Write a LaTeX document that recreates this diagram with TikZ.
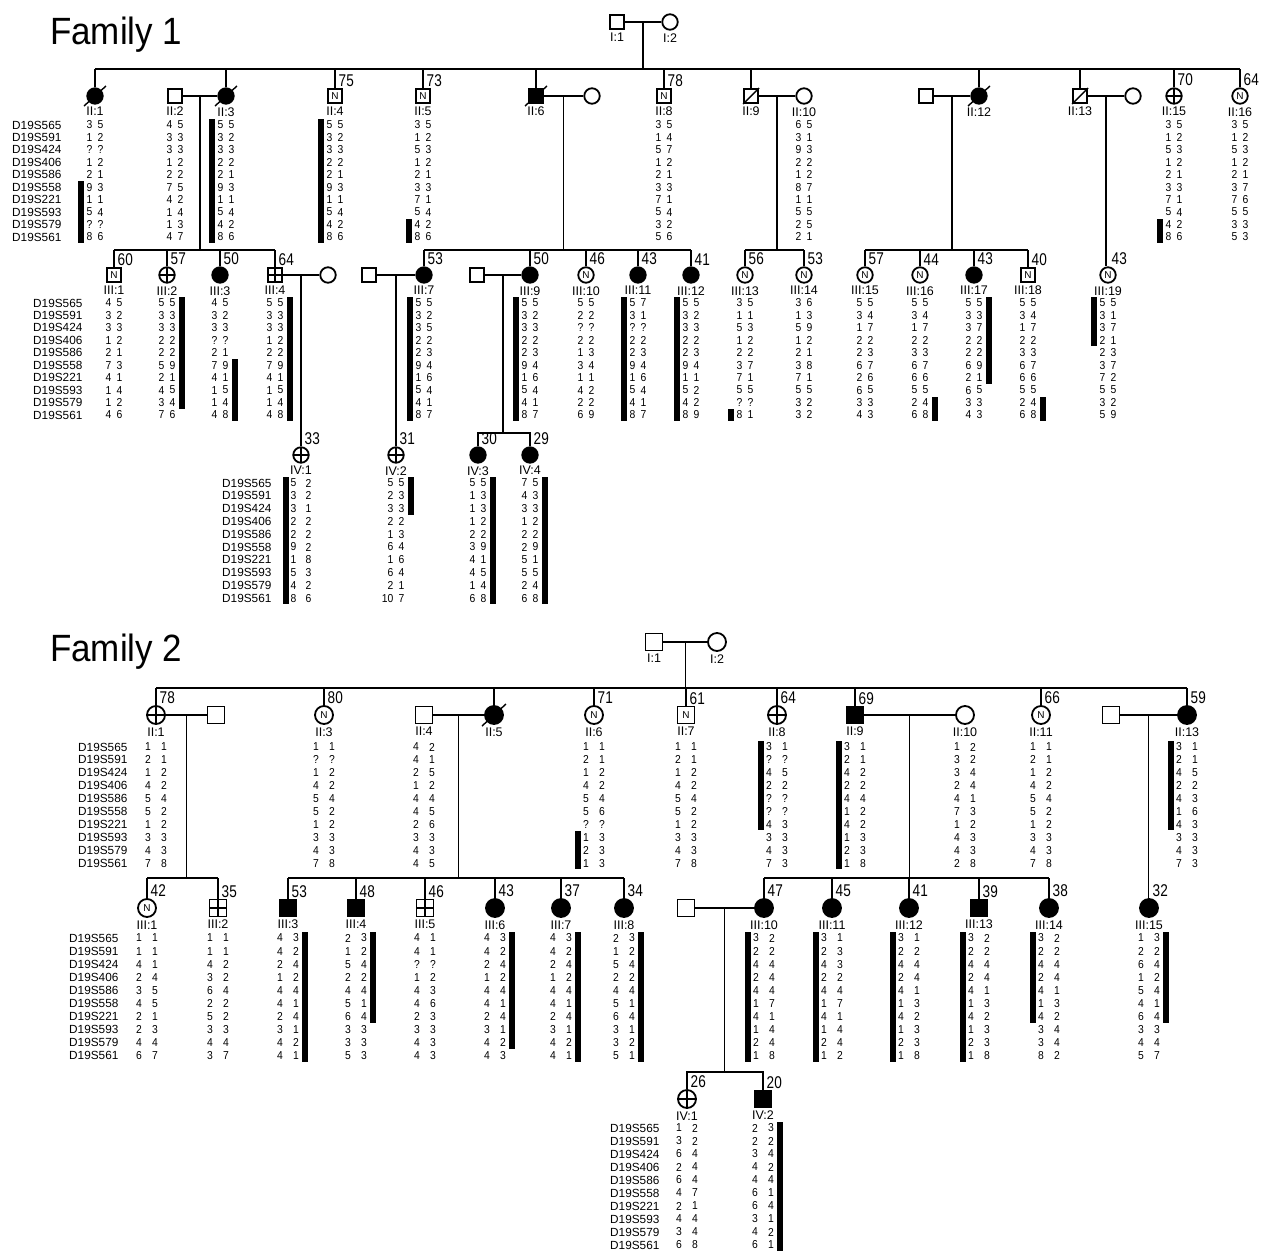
\documentclass[tikz,border=0pt]{standalone}
\usepackage{fontspec}
\setmainfont{Liberation Sans}
\newfontfamily\agefont[FakeStretch=0.8]{Liberation Sans}
\newfontfamily\hapfont[FakeStretch=0.9]{Liberation Sans}
\newfontfamily\ttlfont[FakeStretch=0.92]{Liberation Sans}
\usetikzlibrary{calc}
\tikzset{
  ped/.style={line width=1.3pt},
  symb/.style={draw, line width=1.8pt, inner sep=0pt, font=\fontsize{10}{10}\selectfont},
  sqr/.style={symb, rectangle, minimum size=14pt},
  cir/.style={symb, circle, minimum size=15.5pt},
  aff/.style={fill=black},
  plus/.style={path picture={\draw[line width=1.6pt] (path picture bounding box.north) -- (path picture bounding box.south) (path picture bounding box.west) -- (path picture bounding box.east);}},
  idt/.style={font=\fontsize{12.5}{12.5}\selectfont, inner sep=0pt},
  agel/.style={font=\agefont\fontsize{17}{17}\selectfont, inner sep=0pt, anchor=south west},
  hapt/.style={font=\hapfont\fontsize{11.5}{11.5}\selectfont, inner sep=0pt},
  mkt/.style={font=\fontsize{11.8}{11.8}\selectfont, inner sep=0pt, anchor=west},
  dec/.style={line width=1.4pt},
  ttl/.style={font=\ttlfont\fontsize{38}{38}\selectfont, inner sep=0pt, anchor=base west},
}
% haplotype: prefix, x, y first row, dy, half gap, list
\newcommand{\hap}[6]{\foreach \a/\b [count=\i from 0] in {#6}{%
  \node[hapt,anchor=east] (#1a\i) at ({#2-#5},{#3+#4*\i}) {\a};
  \node[hapt,anchor=west] (#1b\i) at ({#2+#5},{#3+#4*\i}) {\b};}}
% bar: x left, y first row, dy, from row, to row
\newcommand{\hapbar}[5]{\fill ({#1},{#2+#3*(#4-1)-6}) rectangle ({#1+6},{#2+#3*(#5-1)+6});}
% marker labels: prefix, x, y, dy
\newcommand{\mks}[4]{\foreach \m [count=\i from 0] in {D19S565,D19S591,D19S424,D19S406,D19S586,D19S558,D19S221,D19S593,D19S579,D19S561}{%
  \node[mkt] (#1\i) at ({#2},{#3+#4*\i}) {\m};}}
\newcommand{\idl}[2]{\node[idt,anchor=north] (#1id) at ([yshift=-2.5pt]#1.south) {#2};}
\newcommand{\agelab}[2]{\node[agel] (#1age) at ([xshift=3.5pt,yshift=1pt]#1.north) {#2};}
\begin{document}
\begin{tikzpicture}[x=1pt,y=-1pt]
\useasboundingbox (0,0) rectangle (1264,1251);
\fill[white] (0,0) rectangle (1264,1251);

%================ FAMILY 1 ================
\node[ttl] (t1) at (50,44) {Family 1};
% generation I
\node[sqr] (aI1) at (617,22) {};
\node[cir] (aI2) at (670,22) {};
\idl{aI1}{I:1} \idl{aI2}{I:2}
\coordinate (aS2) at (0,69);
\coordinate (aS3) at (0,250);
\coordinate (aS4) at (0,433);
\draw[ped] (aI1) -- (aI2);
\coordinate (aM0) at ($(aI1.east)!.5!(aI2.west)$);
\draw[ped] (aM0) -- (aM0 |- aS2);
% generation II
\node[cir,aff] (aII1) at (95,96) {};
\node[sqr] (aII2) at (175,96) {};
\node[cir,aff] (aII3) at (226,96) {};
\node[sqr] (aII4) at (335,96) {N};
\node[sqr] (aII5) at (423,96) {N};
\node[sqr,aff] (aII6) at (536,96) {};
\node[cir] (aII6w) at (592,96) {};
\node[sqr] (aII8) at (664,96) {N};
\node[sqr] (aII9) at (751,96) {};
\node[cir] (aII10) at (804,96) {};
\node[sqr] (aII12h) at (926,96) {};
\node[cir,aff] (aII12) at (979,96) {};
\node[sqr] (aII13) at (1080,96) {};
\node[cir] (aII13w) at (1133,96) {};
\node[cir,plus] (aII15) at (1174,96) {};
\node[cir] (aII16) at (1240,96) {N};
\foreach \n in {aII1,aII3,aII6,aII12}
  \draw[dec] ([shift={(-11,10)}]\n.center) -- ([shift={(11,-10)}]\n.center);
\foreach \n in {aII9,aII13}
  \draw[dec] ([shift={(-8,8)}]\n.center) -- ([shift={(8,-8)}]\n.center);
\foreach \n in {aII1,aII3,aII4,aII5,aII6,aII8,aII9,aII12,aII13,aII15,aII16}
  \draw[ped] (\n.north) -- (\n.north |- aS2);
\draw[ped] (aII1.north |- aS2) -- (aII16.north |- aS2);
\idl{aII1}{II:1} \idl{aII2}{II:2} \idl{aII3}{II:3} \idl{aII4}{II:4} \idl{aII5}{II:5}
\idl{aII6}{II:6} \idl{aII8}{II:8} \idl{aII9}{II:9} \idl{aII10}{II:10} \idl{aII12}{II:12}
\idl{aII13}{II:13} \idl{aII15}{II:15} \idl{aII16}{II:16}
\agelab{aII4}{75} \agelab{aII5}{73} \agelab{aII8}{78} \agelab{aII15}{70} \agelab{aII16}{64}
\draw[ped] (aII2) -- (aII3);
\draw[ped] (aII6) -- (aII6w);
\draw[ped] (aII9) -- (aII10);
\draw[ped] (aII12h) -- (aII12);
\draw[ped] (aII13) -- (aII13w);
\coordinate (aD1) at ($(aII2.east)!.5!(aII3.west)$);
\coordinate (aD2) at ($(aII6.east)!.5!(aII6w.west)$);
\coordinate (aD3) at ($(aII9.east)!.5!(aII10.west)$);
\coordinate (aD4) at ($(aII12h.east)!.5!(aII12.west)$);
\coordinate (aD5) at ($(aII13.east)!.5!(aII13w.west)$);
\foreach \n in {aD1,aD2,aD3,aD4} \draw[ped] (\n) -- (\n |- aS3);
% haplotypes gen II
\mks{amII}{12}{125}{12.44}
\hap{aII1}{95}{125}{12.44}{2.5}{3/5,1/2,?/?,1/2,2/1,9/3,1/1,5/4,?/?,8/6}
\hapbar{78}{125}{12.44}{6}{10}
\hap{aII2}{175}{125}{12.44}{2.5}{4/5,3/3,3/3,1/2,2/2,7/5,4/2,1/4,1/3,4/7}
\hap{aII3}{226}{125}{12.44}{2.5}{5/5,3/2,3/3,2/2,2/1,9/3,1/1,5/4,4/2,8/6}
\hapbar{209}{125}{12.44}{1}{10}
\hap{aII4}{335}{125}{12.44}{2.5}{5/5,3/2,3/3,2/2,2/1,9/3,1/1,5/4,4/2,8/6}
\hapbar{318}{125}{12.44}{1}{10}
\hap{aII5}{423}{125}{12.44}{2.5}{3/5,1/2,5/3,1/2,2/1,3/3,7/1,5/4,4/2,8/6}
\hapbar{406}{125}{12.44}{9}{10}
\hap{aII8}{664}{125}{12.44}{2.5}{3/5,1/4,5/7,1/2,2/1,3/3,7/1,5/4,3/2,5/6}
\hap{aII10}{804}{125}{12.44}{2.5}{6/5,3/1,9/3,2/2,1/2,8/7,1/1,5/5,2/5,2/1}
\hap{aII15}{1174}{125}{12.44}{2.5}{3/5,1/2,5/3,1/2,2/1,3/3,7/1,5/4,4/2,8/6}
\hapbar{1157}{125}{12.44}{9}{10}
\hap{aII16}{1240}{125}{12.44}{2.5}{3/5,1/2,5/3,1/2,2/1,3/7,7/6,5/5,3/3,5/3}
% generation III
\node[sqr] (aIII1) at (114,275) {N};
\node[cir,plus] (aIII2) at (167,275) {};
\node[cir,aff] (aIII3) at (220,275) {};
\node[sqr,plus] (aIII4) at (275,275) {};
\node[cir] (aIII4w) at (328,275) {};
\node[sqr] (aIII7h) at (369,275) {};
\node[cir,aff] (aIII7) at (424,275) {};
\node[sqr] (aIII9h) at (477,275) {};
\node[cir,aff] (aIII9) at (530,275) {};
\node[cir] (aIII10) at (586,275) {N};
\node[cir,aff] (aIII11) at (638,275) {};
\node[cir,aff] (aIII12) at (691,275) {};
\node[cir] (aIII13) at (745,275) {N};
\node[cir] (aIII14) at (804,275) {N};
\node[cir] (aIII15) at (865,275) {N};
\node[cir] (aIII16) at (920,275) {N};
\node[cir,aff] (aIII17) at (974,275) {};
\node[sqr] (aIII18) at (1028,275) {N};
\node[cir] (aIII19) at (1108,275) {N};
\foreach \n in {aIII1,aIII2,aIII3,aIII4,aIII7,aIII9,aIII10,aIII11,aIII12,aIII13,aIII14,aIII15,aIII16,aIII17,aIII18}
  \draw[ped] (\n.north) -- (\n.north |- aS3);
\draw[ped] (aIII1.north |- aS3) -- (aIII4.north |- aS3);
\draw[ped] (aIII7.north |- aS3) -- (aIII12.north |- aS3);
\draw[ped] (aIII13.north |- aS3) -- (aIII14.north |- aS3);
\draw[ped] (aIII15.north |- aS3) -- (aIII18.north |- aS3);
\draw[ped] (aD5) -- (aD5 |- aIII19.north);
\idl{aIII1}{III:1} \idl{aIII2}{III:2} \idl{aIII3}{III:3} \idl{aIII4}{III:4}
\idl{aIII7}{III:7} \idl{aIII9}{III:9} \idl{aIII10}{III:10} \idl{aIII11}{III:11}
\idl{aIII12}{III:12} \idl{aIII13}{III:13} \idl{aIII14}{III:14} \idl{aIII15}{III:15}
\idl{aIII16}{III:16} \idl{aIII17}{III:17} \idl{aIII18}{III:18} \idl{aIII19}{III:19}
\agelab{aIII1}{60} \agelab{aIII2}{57} \agelab{aIII3}{50} \agelab{aIII4}{64}
\agelab{aIII7}{53} \agelab{aIII9}{50} \agelab{aIII10}{46} \agelab{aIII11}{43}
\agelab{aIII12}{41} \agelab{aIII13}{56} \agelab{aIII14}{53} \agelab{aIII15}{57}
\agelab{aIII16}{44} \agelab{aIII17}{43} \agelab{aIII18}{40} \agelab{aIII19}{43}
\draw[ped] (aIII4) -- (aIII4w);
\draw[ped] (aIII7h) -- (aIII7);
\draw[ped] (aIII9h) -- (aIII9);
\coordinate (aE1) at ($(aIII4.east)!.5!(aIII4w.west)$);
\coordinate (aE2) at ($(aIII7h.east)!.5!(aIII7.west)$);
\coordinate (aE3) at ($(aIII9h.east)!.5!(aIII9.west)$);
% haplotypes gen III
\mks{amIII}{33}{303}{12.44}
\hap{aIII1}{114}{303}{12.44}{2.5}{4/5,3/2,3/3,1/2,2/1,7/3,4/1,1/4,1/2,4/6}
\hap{aIII2}{167}{303}{12.44}{2.5}{5/5,3/3,3/3,2/2,2/2,5/9,2/1,4/5,3/4,7/6}
\hapbar{179}{303}{12.44}{1}{9}
\hap{aIII3}{220}{303}{12.44}{2.5}{4/5,3/2,3/3,?/?,2/1,7/9,4/1,1/5,1/4,4/8}
\hapbar{232}{303}{12.44}{6}{10}
\hap{aIII4}{275}{303}{12.44}{2.5}{5/5,3/3,3/3,1/2,2/2,7/9,4/1,1/5,1/4,4/8}
\hapbar{287}{303}{12.44}{1}{10}
\hap{aIII7}{424}{303}{12.44}{2.5}{5/5,3/2,3/5,2/2,2/3,9/4,1/6,5/4,4/1,8/7}
\hapbar{407}{303}{12.44}{1}{10}
\hap{aIII9}{530}{303}{12.44}{2.5}{5/5,3/2,3/3,2/2,2/3,9/4,1/6,5/4,4/1,8/7}
\hapbar{513}{303}{12.44}{1}{10}
\hap{aIII10}{586}{303}{12.44}{2.5}{5/5,2/2,?/?,2/2,1/3,3/4,1/1,4/2,2/2,6/9}
\hap{aIII11}{638}{303}{12.44}{2.5}{5/7,3/1,?/?,2/2,2/3,9/4,1/6,5/4,4/1,8/7}
\hapbar{621}{303}{12.44}{1}{10}
\hap{aIII12}{691}{303}{12.44}{2.5}{5/5,3/2,3/3,2/2,2/3,9/4,1/1,5/2,4/2,8/9}
\hapbar{674}{303}{12.44}{1}{10}
\hap{aIII13}{745}{303}{12.44}{2.5}{3/5,1/1,5/3,1/2,2/2,3/7,7/1,5/5,?/?,8/1}
\hapbar{728}{303}{12.44}{10}{10}
\hap{aIII14}{804}{303}{12.44}{2.5}{3/6,1/3,5/9,1/2,2/1,3/8,7/1,5/5,3/2,3/2}
\hap{aIII15}{865}{303}{12.44}{2.5}{5/5,3/4,1/7,2/2,2/3,6/7,2/6,6/5,3/3,4/3}
\hap{aIII16}{920}{303}{12.44}{2.5}{5/5,3/4,1/7,2/2,3/3,6/7,6/6,5/5,2/4,6/8}
\hapbar{932}{303}{12.44}{9}{10}
\hap{aIII17}{974}{303}{12.44}{2.5}{5/5,3/3,3/7,2/2,2/2,6/9,2/1,6/5,3/3,4/3}
\hapbar{986}{303}{12.44}{1}{7}
\hap{aIII18}{1028}{303}{12.44}{2.5}{5/5,3/4,1/7,2/2,3/3,6/7,6/6,5/5,2/4,6/8}
\hapbar{1040}{303}{12.44}{9}{10}
\hap{aIII19}{1108}{303}{12.44}{2.5}{5/5,3/1,3/7,2/1,2/3,3/7,7/2,5/5,3/2,5/9}
\hapbar{1091}{303}{12.44}{1}{4}
% generation IV
\node[cir,plus] (aIV1) at (301,455) {};
\node[cir,plus] (aIV2) at (396,455) {};
\node[cir,aff] (aIV3) at (478,455) {};
\node[cir,aff] (aIV4) at (530,455) {};
\draw[ped] (aE1) -- (aE1 |- aIV1.north);
\draw[ped] (aE2) -- (aE2 |- aIV2.north);
\draw[ped] (aE3) -- (aE3 |- aS4);
\draw[ped] (aIV3.north) -- (aIV3.north |- aS4) -- (aIV4.north |- aS4) -- (aIV4.north);
\idl{aIV1}{IV:1} \idl{aIV2}{IV:2} \idl{aIV3}{IV:3} \idl{aIV4}{IV:4}
\agelab{aIV1}{33} \agelab{aIV2}{31} \agelab{aIV3}{30} \agelab{aIV4}{29}
\mks{amIV}{222}{483}{12.8}
\hap{aIV1}{301}{483}{12.8}{4.5}{5/2,3/2,3/1,2/2,2/2,9/2,1/8,5/3,4/2,8/6}
\hapbar{283}{483}{12.8}{1}{10}
\hap{aIV2}{396}{483}{12.8}{2.5}{5/5,2/3,3/3,2/2,1/3,6/4,1/6,6/4,2/1,10/7}
\hapbar{408}{483}{12.8}{1}{3}
\hap{aIV3}{478}{483}{12.8}{2.5}{5/5,1/3,1/3,1/2,2/2,3/9,4/1,4/5,1/4,6/8}
\hapbar{490}{483}{12.8}{1}{10}
\hap{aIV4}{530}{483}{12.8}{2.5}{7/5,4/3,3/3,1/2,2/2,2/9,5/1,5/5,2/4,6/8}
\hapbar{542}{483}{12.8}{1}{10}

%================ FAMILY 2 ================
\begin{scope}[sqr/.append style={minimum size=17pt}, cir/.append style={minimum size=18pt}]
\node[ttl] (t2) at (50,661) {Family 2};
\node[sqr] (bI1) at (654,642) {};
\node[cir] (bI2) at (717,642) {};
\idl{bI1}{I:1} \idl{bI2}{I:2}
\coordinate (bS2) at (0,688);
\coordinate (bS3) at (0,878);
\coordinate (bS4) at (0,1072);
\draw[ped] (bI1) -- (bI2);
\coordinate (bM0) at ($(bI1.east)!.5!(bI2.west)$);
\draw[ped] (bM0) -- (bM0 |- bS2);
% generation II
\node[cir,plus] (bII1) at (156,715) {};
\node[sqr] (bII1h) at (216,715) {};
\node[cir] (bII3) at (324,715) {N};
\node[sqr] (bII4) at (424,715) {};
\node[cir,aff] (bII5) at (494,715) {};
\node[cir] (bII6) at (594,715) {N};
\node[sqr] (bII7) at (686,715) {N};
\node[cir,plus] (bII8) at (777,715) {};
\node[sqr,aff] (bII9) at (855,715) {};
\node[cir] (bII10) at (965,715) {};
\node[cir] (bII11) at (1041,715) {N};
\node[sqr] (bII13h) at (1111,715) {};
\node[cir,aff] (bII13) at (1187,715) {};
\draw[dec] ([shift={(-12,11)}]bII5.center) -- ([shift={(12,-11)}]bII5.center);
\foreach \n in {bII1,bII3,bII5,bII6,bII7,bII8,bII9,bII11,bII13}
  \draw[ped] (\n.north) -- (\n.north |- bS2);
\draw[ped] (bII1.north |- bS2) -- (bII13.north |- bS2);
\idl{bII1}{II:1} \idl{bII3}{II:3} \idl{bII4}{II:4} \idl{bII5}{II:5} \idl{bII6}{II:6}
\idl{bII7}{II:7} \idl{bII8}{II:8} \idl{bII9}{II:9} \idl{bII10}{II:10} \idl{bII11}{II:11}
\idl{bII13}{II:13}
\agelab{bII1}{78} \agelab{bII3}{80} \agelab{bII6}{71} \agelab{bII7}{61}
\agelab{bII8}{64} \agelab{bII9}{69} \agelab{bII11}{66} \agelab{bII13}{59}
\draw[ped] (bII1) -- (bII1h);
\draw[ped] (bII4) -- (bII5);
\draw[ped] (bII9) -- (bII10);
\draw[ped] (bII13h) -- (bII13);
\coordinate (bD1) at ($(bII1.east)!.5!(bII1h.west)$);
\coordinate (bD2) at ($(bII4.east)!.5!(bII5.west)$);
\coordinate (bD3) at ($(bII9.east)!.5!(bII10.west)$);
\coordinate (bD4) at ($(bII13h.east)!.5!(bII13.west)$);
\foreach \n in {bD1,bD2,bD3} \draw[ped] (\n) -- (\n |- bS3);
\mks{bmII}{78}{747}{12.9}
\hap{bII1}{156}{747}{12.9}{5}{1/1,2/1,1/2,4/2,5/4,5/2,1/2,3/3,4/3,7/8}
\hap{bII3}{324}{747}{12.9}{5}{1/1,?/?,1/2,4/2,5/4,5/2,1/2,3/3,4/3,7/8}
\hap{bII4}{424}{747}{12.9}{5}{4/2,4/1,2/5,1/2,4/4,4/5,2/6,3/3,4/3,4/5}
\hap{bII6}{594}{747}{12.9}{5}{1/1,2/1,1/2,4/2,5/4,5/6,?/?,1/3,2/3,1/3}
\hapbar{575}{747}{12.9}{8}{10}
\hap{bII7}{686}{747}{12.9}{5}{1/1,2/1,1/2,4/2,5/4,5/2,1/2,3/3,4/3,7/8}
\hap{bII8}{777}{747}{12.9}{5}{3/1,?/?,4/5,2/2,?/?,?/?,4/3,3/3,4/3,7/3}
\hapbar{758}{747}{12.9}{1}{7}
\hap{bII9}{855}{747}{12.9}{5}{3/1,2/1,4/2,2/2,4/4,1/2,4/2,1/3,2/3,1/8}
\hapbar{836}{747}{12.9}{1}{10}
\hap{bII10}{965}{747}{12.9}{5}{1/2,3/2,3/4,2/4,4/1,7/3,1/2,4/3,4/3,2/8}
\hap{bII11}{1041}{747}{12.9}{5}{1/1,2/1,1/2,4/2,5/4,5/2,1/2,3/3,4/3,7/8}
\hap{bII13}{1187}{747}{12.9}{5}{3/1,2/1,4/5,2/2,4/3,1/6,4/3,3/3,4/3,7/3}
\hapbar{1168}{747}{12.9}{1}{7}
% generation III
\node[cir] (bIII1) at (147,908) {N};
\node[sqr,plus] (bIII2) at (218,908) {};
\node[sqr,aff] (bIII3) at (288,908) {};
\node[sqr,aff] (bIII4) at (356,908) {};
\node[sqr,plus] (bIII5) at (425,908) {};
\node[cir,aff] (bIII6) at (495,908) {};
\node[cir,aff] (bIII7) at (561,908) {};
\node[cir,aff] (bIII8) at (624,908) {};
\node[sqr] (bIII10h) at (686,908) {};
\node[cir,aff] (bIII10) at (764,908) {};
\node[cir,aff] (bIII11) at (832,908) {};
\node[cir,aff] (bIII12) at (909,908) {};
\node[sqr,aff] (bIII13) at (979,908) {};
\node[cir,aff] (bIII14) at (1049,908) {};
\node[cir,aff] (bIII15) at (1149,908) {};
\foreach \n in {bIII1,bIII2,bIII3,bIII4,bIII5,bIII6,bIII7,bIII8,bIII10,bIII11,bIII12,bIII13,bIII14}
  \draw[ped] (\n.north) -- (\n.north |- bS3);
\draw[ped] (bIII1.north |- bS3) -- (bIII2.north |- bS3);
\draw[ped] (bIII3.north |- bS3) -- (bIII8.north |- bS3);
\draw[ped] (bIII10.north |- bS3) -- (bIII14.north |- bS3);
\draw[ped] (bD4) -- (bD4 |- bIII15.north);
\idl{bIII1}{III:1} \idl{bIII2}{III:2} \idl{bIII3}{III:3} \idl{bIII4}{III:4}
\idl{bIII5}{III:5} \idl{bIII6}{III:6} \idl{bIII7}{III:7} \idl{bIII8}{III:8}
\idl{bIII10}{III:10} \idl{bIII11}{III:11} \idl{bIII12}{III:12} \idl{bIII13}{III:13}
\idl{bIII14}{III:14} \idl{bIII15}{III:15}
\agelab{bIII1}{42} \agelab{bIII2}{35} \agelab{bIII3}{53} \agelab{bIII4}{48}
\agelab{bIII5}{46} \agelab{bIII6}{43} \agelab{bIII7}{37} \agelab{bIII8}{34}
\agelab{bIII10}{47} \agelab{bIII11}{45} \agelab{bIII12}{41} \agelab{bIII13}{39}
\agelab{bIII14}{38} \agelab{bIII15}{32}
\draw[ped] (bIII10h) -- (bIII10);
\coordinate (bE1) at ($(bIII10h.east)!.5!(bIII10.west)$);
\draw[ped] (bE1) -- (bE1 |- bS4);
\mks{bmIII}{69}{938}{13.1}
\hap{bIII1}{147}{938}{13.1}{5}{1/1,1/1,4/1,2/4,3/5,4/5,2/1,2/3,4/4,6/7}
\hap{bIII2}{218}{938}{13.1}{5}{1/1,1/1,4/2,3/2,6/4,2/2,5/2,3/3,4/4,3/7}
\hap{bIII3}{288}{938}{13.1}{5}{4/3,4/2,2/4,1/2,4/4,4/1,2/4,3/1,4/2,4/1}
\hapbar{302}{938}{13.1}{1}{10}
\hap{bIII4}{356}{938}{13.1}{5}{2/3,1/2,5/4,2/2,4/4,5/1,6/4,3/3,3/3,5/3}
\hapbar{370}{938}{13.1}{1}{7}
\hap{bIII5}{425}{938}{13.1}{5}{4/1,4/1,?/?,1/2,4/3,4/6,2/3,3/3,4/3,4/3}
\hap{bIII6}{495}{938}{13.1}{5}{4/3,4/2,2/4,1/2,4/4,4/1,2/4,3/1,4/2,4/3}
\hapbar{509}{938}{13.1}{1}{9}
\hap{bIII7}{561}{938}{13.1}{5}{4/3,4/2,2/4,1/2,4/4,4/1,2/4,3/1,4/2,4/1}
\hapbar{575}{938}{13.1}{1}{10}
\hap{bIII8}{624}{938}{13.1}{5}{2/3,1/2,5/4,2/2,4/4,5/1,6/4,3/1,3/2,5/1}
\hapbar{638}{938}{13.1}{1}{10}
\hap{bIII10}{764}{938}{13.1}{5}{3/2,2/2,4/4,2/4,4/4,1/7,4/1,1/4,2/4,1/8}
\hapbar{745}{938}{13.1}{1}{10}
\hap{bIII11}{832}{938}{13.1}{5}{3/1,2/3,4/3,2/2,4/4,1/7,4/1,1/4,2/4,1/2}
\hapbar{813}{938}{13.1}{1}{10}
\hap{bIII12}{909}{938}{13.1}{5}{3/1,2/2,4/4,2/4,4/1,1/3,4/2,1/3,2/3,1/8}
\hapbar{890}{938}{13.1}{1}{10}
\hap{bIII13}{979}{938}{13.1}{5}{3/2,2/2,4/4,2/4,4/1,1/3,4/2,1/3,2/3,1/8}
\hapbar{960}{938}{13.1}{1}{10}
\hap{bIII14}{1049}{938}{13.1}{5}{3/2,2/2,4/4,2/4,4/1,1/3,4/2,3/4,3/4,8/2}
\hapbar{1030}{938}{13.1}{1}{7}
\hap{bIII15}{1149}{938}{13.1}{5}{1/3,2/2,6/4,1/2,5/4,4/1,6/4,3/3,4/4,5/7}
\hapbar{1163}{938}{13.1}{1}{7}
% generation IV
\node[cir,plus] (bIV1) at (687,1099) {};
\node[sqr,aff] (bIV2) at (763,1099) {};
\draw[ped] (bIV1.north) -- (bIV1.north |- bS4) -- (bIV2.north |- bS4) -- (bIV2.north);
\idl{bIV1}{IV:1} \idl{bIV2}{IV:2}
\agelab{bIV1}{26} \agelab{bIV2}{20}
\mks{bmIV}{610}{1128}{13}
\hap{bIV1}{687}{1128}{13}{5}{1/2,3/2,6/4,2/4,6/4,4/7,2/1,4/4,3/4,6/8}
\hap{bIV2}{763}{1128}{13}{5}{2/3,2/2,3/4,4/2,4/4,6/1,6/4,3/1,4/2,6/1}
\hapbar{777}{1128}{13}{1}{10}
\end{scope}
\end{tikzpicture}
\end{document}
